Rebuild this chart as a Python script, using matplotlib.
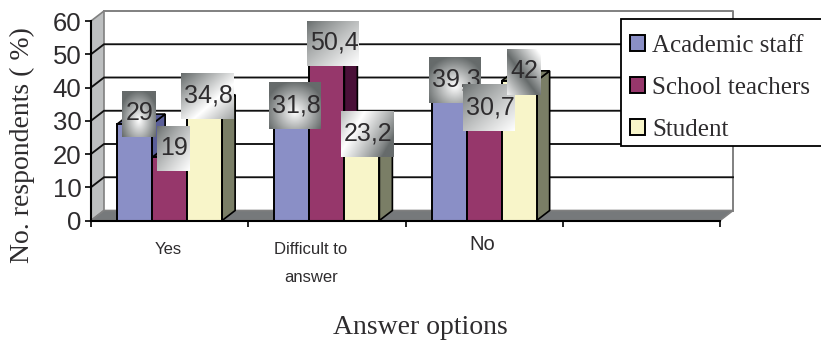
import numpy as np
import matplotlib
matplotlib.use("Agg")
import matplotlib.pyplot as plt
from matplotlib.colors import LinearSegmentedColormap
from matplotlib.patches import Rectangle

# survey results per answer option
categories = ["Yes", "Difficult to\nanswer", "No"]
series_names = ["Academic staff", "School teachers", "Student"]
academic_staff = [29, 31.8, 39.3]
school_teachers = [19, 50.4, 30.7]
student = [34.8, 23.2, 42]
y_ticks = [0, 10, 20, 30, 40, 50, 60]

W, H = 821, 343
PLOT_LEFT, PLOT_RIGHT, PLOT_TOP, PLOT_BOTTOM = 91, 720, 21, 220.5
N_SLOTS = 4  # the axis leaves one empty slot on the right
DEPTH_X = 13 / ((PLOT_RIGHT - PLOT_LEFT) / N_SLOTS)
DEPTH_Y = 10 / ((PLOT_BOTTOM - PLOT_TOP) / 60)
BAR_WIDTH = 0.2226

FRONT = ["#8A8FC6", "#96376B", "#F8F5C9"]
SIDE = ["#5A5E98", "#4A1038", "#7A7E66"]
WALL_EDGE = "#808080"

SANS = "Liberation Sans"
SERIF = "Liberation Serif"
INK = "#2e2c2e"

# gradient style and pixel box (left, right, top, bottom) of each value label
label_boxes = [
    ("glow", 122, 156, 91, 137),
    ("diag", 157, 190, 126, 171),
    ("band", 181, 234, 73, 119),
    ("glow", 269, 321, 83, 129),
    ("diag", 307, 359, 21, 66),
    ("band2", 341, 394, 112, 157),
    ("glow", 429, 481, 57, 103),
    ("diag", 463, 515, 85, 131),
    ("anti", 507, 540, 49, 95),
]

shade = LinearSegmentedColormap.from_list("shade", ["#666b6b", "#ffffff"])


def gradient(kind, n=64):
    u, v = np.meshgrid(np.linspace(0, 1, n), np.linspace(0, 1, n))
    if kind == "glow":
        # light spot low in the box, fading towards all edges
        d = np.hypot((u - 0.5) * 1.7, (v - 0.64) * 1.5)
        return np.clip(1 - d, 0, 1)
    if kind == "diag":
        return np.clip((u + v) / 2, 0, 1) ** 0.8
    if kind == "band":
        return np.clip(1 - np.abs((u + v) / 2 - 0.62) / 0.62, 0, 1)
    if kind == "band2":
        return np.clip(1 - np.abs((u + 0.5 * v) / 1.5 - 0.3) / 0.55, 0, 1) ** 0.8
    # light corner top right, dark band through the middle
    return np.clip(np.abs((1 - u + v) / 2 - 0.55) / 0.5, 0, 1)


def px_x(x):
    return (x - PLOT_LEFT) / (PLOT_RIGHT - PLOT_LEFT) * N_SLOTS


def px_y(y):
    return (PLOT_BOTTOM - y) / (PLOT_BOTTOM - PLOT_TOP) * 60


def fig_xy(x, y):
    return x / W, 1 - y / H


def draw_box(ax, x0, x1, bottom, top, side):
    # side and top faces; the front face comes from ax.bar
    ax.fill([x1, x1 + DEPTH_X, x1 + DEPTH_X, x1],
            [bottom, bottom + DEPTH_Y, top + DEPTH_Y, top],
            facecolor=side, edgecolor="black", lw=1.2, clip_on=False, zorder=3)
    ax.fill([x0, x0 + DEPTH_X, x1 + DEPTH_X, x1],
            [top, top + DEPTH_Y, top + DEPTH_Y, top],
            facecolor=side, edgecolor="black", lw=1.2, clip_on=False, zorder=3)


fig = plt.figure(figsize=(W / 100, H / 100), dpi=100)
ax = fig.add_axes([PLOT_LEFT / W, 1 - PLOT_BOTTOM / H,
                   (PLOT_RIGHT - PLOT_LEFT) / W, (PLOT_BOTTOM - PLOT_TOP) / H])
ax.patch.set_visible(False)

# box walls
ax.fill([0, DEPTH_X, DEPTH_X, 0], [0, DEPTH_Y, 60 + DEPTH_Y, 60],
        facecolor="#BDBFC0", edgecolor=WALL_EDGE, lw=1.2, clip_on=False, zorder=1)
ax.fill([0, DEPTH_X, N_SLOTS + DEPTH_X, N_SLOTS], [0, DEPTH_Y, DEPTH_Y, 0],
        facecolor="#76797B", edgecolor=WALL_EDGE, lw=1.2, clip_on=False, zorder=1)
ax.plot([DEPTH_X, N_SLOTS + DEPTH_X, N_SLOTS + DEPTH_X],
        [60 + DEPTH_Y, 60 + DEPTH_Y, DEPTH_Y],
        color=WALL_EDGE, lw=1.4, clip_on=False, zorder=1)

for v in y_ticks[1:-1]:
    ax.plot([0, DEPTH_X, N_SLOTS + DEPTH_X], [v, v + DEPTH_Y, v + DEPTH_Y],
            color="#111111", lw=1.35, clip_on=False, zorder=2)

# bars, one group in the middle of each slot
all_series = [academic_staff, school_teachers, student]
handles = []
for s, values in enumerate(all_series):
    x = np.arange(len(categories)) + 0.5 + (s - 1) * BAR_WIDTH
    for xi, v in zip(x, values):
        draw_box(ax, xi - BAR_WIDTH / 2, xi + BAR_WIDTH / 2, 0, v, SIDE[s])
    bars = ax.bar(x, values, BAR_WIDTH, color=FRONT[s], edgecolor="black",
                  lw=1.4, clip_on=False, zorder=4 + s, label=series_names[s])
    handles.append(bars)

# value labels on their gradient plates
flat_values = [all_series[s][c] for c in range(3) for s in range(3)]
for i, (value, box) in enumerate(zip(flat_values, label_boxes)):
    kind, x0, x1, y0, y1 = box
    z = 10 + i
    ax.imshow(gradient(kind), cmap=shade, vmin=0, vmax=1, aspect="auto",
              extent=(px_x(x0), px_x(x1), px_y(y1), px_y(y0)), origin="upper",
              interpolation="bilinear", clip_on=False, zorder=z)
    ax.text(px_x((x0 + x1) / 2 + 1), px_y((y0 + y1) / 2 - 1),
            f"{value:g}".replace(".", ","), family=SANS, fontsize=18,
            color=INK, ha="center", va="center", clip_on=False, zorder=z)

ax.set_xlim(0, N_SLOTS)
ax.set_ylim(0, 60)
ax.set_xticks(range(N_SLOTS + 1))
ax.set_xticklabels([])
ax.set_yticks(y_ticks)
ax.set_yticklabels([str(v) for v in y_ticks], family=SANS, fontsize=18.5, color=INK)
ax.tick_params(axis="y", length=4.5, width=1.2, pad=2.5)
ax.tick_params(axis="x", length=4.5, width=1.2)
for name in ["top", "right"]:
    ax.spines[name].set_visible(False)
for name in ["left", "bottom"]:
    ax.spines[name].set_linewidth(1.5)
    ax.spines[name].set_zorder(9)

# category labels have different sizes on this axis
fig.text(*fig_xy(168, 250), categories[0], family=SANS, fontsize=12,
         color=INK, ha="center", va="center")
first, second = categories[1].split("\n")
fig.text(*fig_xy(311, 250), first, family=SANS, fontsize=12,
         color=INK, ha="center", va="center")
fig.text(*fig_xy(311, 277), second, family=SANS, fontsize=12,
         color=INK, ha="center", va="center")
fig.text(*fig_xy(482, 244), categories[2], family=SANS, fontsize=14.5,
         color=INK, ha="center", va="center")

fig.text(*fig_xy(420, 328), "Answer options", family=SERIF, fontsize=20,
         color=INK, ha="center", va="center")
fig.text(*fig_xy(22, 145), "No. respondents ( %)", family=SERIF, fontsize=20,
         color=INK, ha="center", va="center", rotation=90)

# legend frame runs off the right edge, so it is drawn apart from the entries
fx0, fy0 = fig_xy(620.5, 146)
fx1, fy1 = fig_xy(830, 19)
ax.add_patch(Rectangle((fx0, fy0), fx1 - fx0, fy1 - fy0, transform=fig.transFigure,
                       facecolor="white", edgecolor="black", lw=1.3,
                       clip_on=False, zorder=29))
leg = ax.legend(handles=handles, loc="upper left",
                bbox_to_anchor=fig_xy(630, 34.5), bbox_transform=fig.transFigure,
                prop={"family": SERIF, "size": 18}, labelcolor=INK, frameon=False,
                borderaxespad=0, borderpad=0, labelspacing=0.8,
                handlelength=0.6, handleheight=0.6, handletextpad=0.28)
leg.set_zorder(30)

fig.savefig("out.png", dpi=100)
